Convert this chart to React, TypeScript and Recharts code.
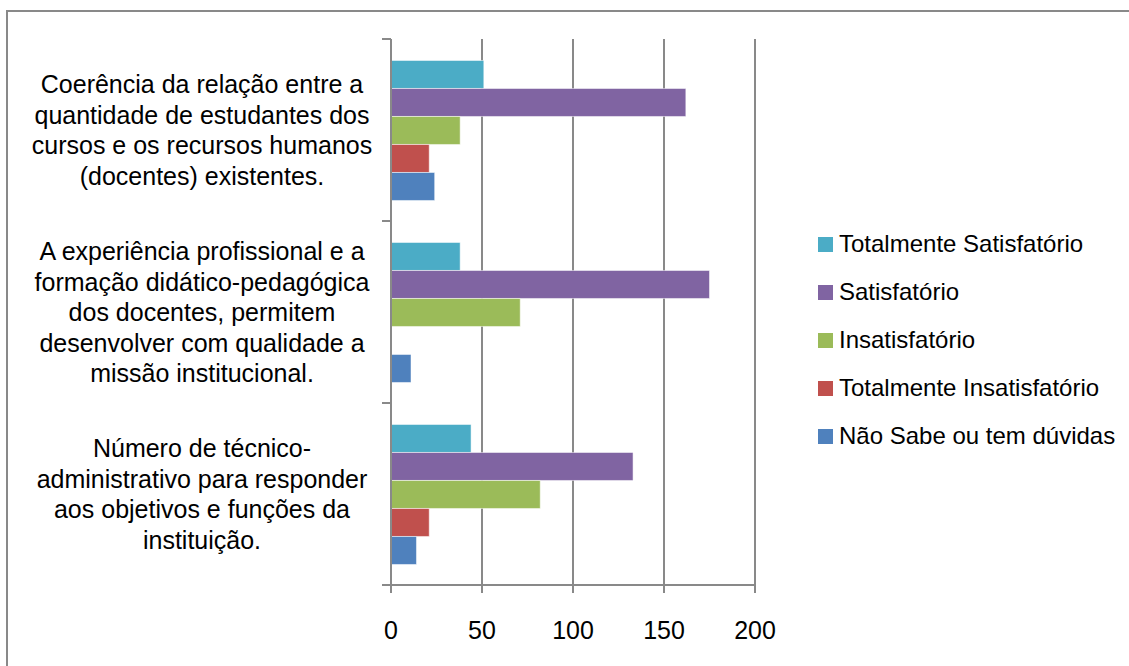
import React from "react"
import {
  BarChart,
  Bar,
  XAxis,
  YAxis,
  CartesianGrid,
  Legend,
} from "recharts"

const categories = [
  "Coerência da relação entre a\nquantidade de estudantes dos\ncursos e os recursos humanos\n(docentes) existentes.",
  "A experiência profissional e a\nformação didático-pedagógica\ndos docentes, permitem\ndesenvolver com qualidade a\nmissão institucional.",
  "Número de técnico-\nadministrativo para responder\naos objetivos e funções da\ninstituição.",
]

const seriesNames = [
  "Totalmente Satisfatório",
  "Satisfatório",
  "Insatisfatório",
  "Totalmente Insatisfatório",
  "Não Sabe ou tem dúvidas",
]
const seriesColors = ["#4BACC6", "#8064A2", "#9BBB59", "#C0504D", "#4F81BD"]

const totalmenteSatisfatorio = [51, 38, 44]
const satisfatorio = [162, 175, 133]
const insatisfatorio = [38, 71, 82]
const totalmenteInsatisfatorio = [21, 0, 21]
const naoSabe = [24, 11, 14]

const xTicks = [0, 50, 100, 150, 200]

const seriesKeys = ["ts", "s", "ins", "ti", "ns"]
const data = categories.map((name, i) => ({
  name,
  ts: totalmenteSatisfatorio[i],
  s: satisfatorio[i],
  ins: insatisfatorio[i],
  ti: totalmenteInsatisfatorio[i],
  ns: naoSabe[i],
}))

const W = 1129
const H = 666
const TOP = 39
const AXIS_H = 81
const Y_W = 391
const RIGHT = 374
const BAND = (H - TOP - AXIS_H) / categories.length
const AXIS = "#898989"
const FONT = "'Liberation Sans', Arial, sans-serif"
const FS = 25

function CategoryTick(props: any) {
  const { y, payload, index } = props
  const lines = String(payload.value).split("\n")
  const lineH = 30.5
  const start = -((lines.length - 1) / 2) * lineH + 9
  return (
    <g>
      <line x1={Y_W - 9} x2={Y_W} y1={y - BAND / 2} y2={y - BAND / 2} stroke={AXIS} strokeWidth={2} />
      {index === categories.length - 1 && (
        <line x1={Y_W - 9} x2={Y_W} y1={y + BAND / 2} y2={y + BAND / 2} stroke={AXIS} strokeWidth={2} />
      )}
      <text x={202} y={y} textAnchor="middle" fontSize={FS} fill="#000" fontFamily={FONT}>
        {lines.map((l, i) => (
          <tspan key={i} x={202} dy={i === 0 ? start : lineH}>
            {l}
          </tspan>
        ))}
      </text>
    </g>
  )
}

function LegendContent({ payload }: any) {
  const items = [...(payload || [])].sort(
    (a: any, b: any) => seriesNames.indexOf(a.value) - seriesNames.indexOf(b.value)
  )
  return (
    <ul style={{ margin: 0, padding: 0, listStyle: "none", fontFamily: FONT, fontSize: 24, color: "#000", textAlign: "left" }}>
      {items.map((p: any) => (
        <li key={p.value} style={{ height: 48, display: "flex", alignItems: "center", whiteSpace: "nowrap" }}>
          <span style={{ width: 15, height: 15, background: p.color, marginRight: 6, display: "inline-block" }} />
          {p.value}
        </li>
      ))}
    </ul>
  )
}

export default function App() {
  return (
    <div style={{ position: "absolute", left: 0, top: 0, width: W, height: H, background: "#fff", fontFamily: FONT, overflow: "hidden" }}>
      <div
        style={{
          position: "absolute",
          left: 6,
          top: 10,
          width: W + 20,
          height: H + 20,
          borderTop: `2px solid ${AXIS}`,
          borderLeft: `2px solid ${AXIS}`,
          boxSizing: "border-box",
        }}
      />
      <BarChart
        width={W}
        height={H}
        data={data}
        layout="vertical"
        margin={{ top: TOP, right: RIGHT, bottom: 0, left: 0 }}
        barCategoryGap="11.8%"
        barGap={0}
      >
        <CartesianGrid horizontal={false} stroke={AXIS} strokeWidth={2} />
        <XAxis
          type="number"
          domain={[0, 200]}
          ticks={xTicks}
          interval={0}
          height={AXIS_H}
          stroke={AXIS}
          axisLine={{ stroke: AXIS, strokeWidth: 2 }}
          tickLine={{ stroke: AXIS, strokeWidth: 2 }}
          tickSize={8}
          tickMargin={28}
          tick={{ fill: "#000", fontSize: FS, fontFamily: FONT }}
        />
        <YAxis
          type="category"
          dataKey="name"
          width={Y_W}
          tickLine={false}
          axisLine={{ stroke: AXIS, strokeWidth: 2 }}
          tick={<CategoryTick />}
          interval={0}
        />
        <Legend
          layout="vertical"
          verticalAlign="middle"
          align="center"
          itemSorter={(item: any) => seriesNames.indexOf(item.value)}
          content={<LegendContent />}
          wrapperStyle={{ left: 818, top: 220, width: 310 }}
        />
        {seriesKeys.map((k, i) => (
          <Bar
            key={k}
            dataKey={k}
            name={seriesNames[i]}
            fill={seriesColors[i]}
            stroke="#fff"
            strokeOpacity={0.5}
            isAnimationActive={false}
          />
        ))}
      </BarChart>
    </div>
  )
}
